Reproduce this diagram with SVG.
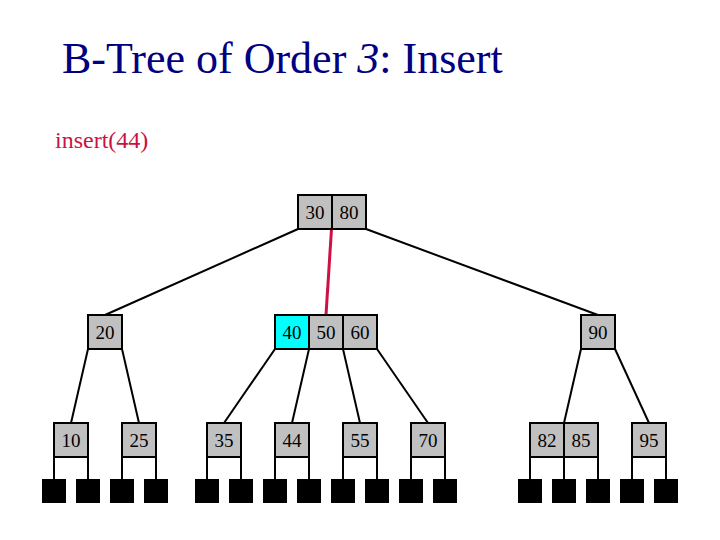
<svg xmlns="http://www.w3.org/2000/svg" width="720" height="540" viewBox="0 0 720 540">
<style>
.c{fill:#c0c0c0;stroke:#000;stroke-width:2}
.h{fill:#00ffff;stroke:#000;stroke-width:2}
.t{font-family:"Liberation Serif","Times New Roman",serif;font-size:19px;text-anchor:middle;fill:#000}
.l{fill:#000}
.e{stroke:#000;stroke-width:2;fill:none}
</style>
<rect width="720" height="540" fill="#fff"/>
<text x="62" y="73" font-family="Liberation Serif, Times New Roman, serif" font-size="44" fill="#000080">B-Tree of Order <tspan font-style="italic">3</tspan>: Insert</text>
<text x="55" y="148" font-family="Liberation Serif, Times New Roman, serif" font-size="24" fill="#cc1144">insert(44)</text>
<g id="connectors">
<line class="e" x1="298" y1="229" x2="105" y2="315"/>
<line x1="331.5" y1="229" x2="326" y2="315" stroke="#cc1144" stroke-width="3"/>
<line class="e" x1="366" y1="229" x2="598" y2="315"/>
<line class="e" x1="88" y1="349" x2="71" y2="423"/>
<line class="e" x1="122" y1="349" x2="139" y2="423"/>
<line class="e" x1="275" y1="349" x2="224" y2="423"/>
<line class="e" x1="309" y1="349" x2="292" y2="423"/>
<line class="e" x1="343" y1="349" x2="360" y2="423"/>
<line class="e" x1="377" y1="349" x2="428" y2="423"/>
<line class="e" x1="581" y1="349" x2="564" y2="423"/>
<line class="e" x1="615" y1="349" x2="649" y2="423"/>
<path class="e" d="M54 457V479M88 457V479M122 457V479M156 457V479M207 457V479M241 457V479M275 457V479M309 457V479M343 457V479M377 457V479M411 457V479M445 457V479M530 457V479M564 457V479M598 457V479M632 457V479M666 457V479"/>
</g>
<g id="root">
<rect class="c" x="298" y="195" width="34" height="34"/><rect class="c" x="332" y="195" width="34" height="34"/>
<text class="t" x="315" y="219">30</text><text class="t" x="349" y="219">80</text>
</g>
<g id="n20">
<rect class="c" x="88" y="315" width="34" height="34"/>
<text class="t" x="105" y="339">20</text>
</g>
<g id="n405060">
<rect class="h" x="275" y="315" width="34" height="34"/><rect class="c" x="309" y="315" width="34" height="34"/><rect class="c" x="343" y="315" width="34" height="34"/>
<text class="t" x="292" y="339">40</text><text class="t" x="326" y="339">50</text><text class="t" x="360" y="339">60</text>
</g>
<g id="n90">
<rect class="c" x="581" y="315" width="34" height="34"/>
<text class="t" x="598" y="339">90</text>
</g>
<g id="n10"><rect class="c" x="54" y="423" width="34" height="34"/><text class="t" x="71" y="447">10</text></g>
<g id="n25"><rect class="c" x="122" y="423" width="34" height="34"/><text class="t" x="139" y="447">25</text></g>
<g id="n35"><rect class="c" x="207" y="423" width="34" height="34"/><text class="t" x="224" y="447">35</text></g>
<g id="n44"><rect class="c" x="275" y="423" width="34" height="34"/><text class="t" x="292" y="447">44</text></g>
<g id="n55"><rect class="c" x="343" y="423" width="34" height="34"/><text class="t" x="360" y="447">55</text></g>
<g id="n70"><rect class="c" x="411" y="423" width="34" height="34"/><text class="t" x="428" y="447">70</text></g>
<g id="n8285"><rect class="c" x="530" y="423" width="34" height="34"/><rect class="c" x="564" y="423" width="34" height="34"/><text class="t" x="547" y="447">82</text><text class="t" x="581" y="447">85</text></g>
<g id="n95"><rect class="c" x="632" y="423" width="34" height="34"/><text class="t" x="649" y="447">95</text></g>
<g id="leaves">
<rect class="l" x="42" y="479" width="24" height="24"/><rect class="l" x="76" y="479" width="24" height="24"/>
<rect class="l" x="110" y="479" width="24" height="24"/><rect class="l" x="144" y="479" width="24" height="24"/>
<rect class="l" x="195" y="479" width="24" height="24"/><rect class="l" x="229" y="479" width="24" height="24"/>
<rect class="l" x="263" y="479" width="24" height="24"/><rect class="l" x="297" y="479" width="24" height="24"/>
<rect class="l" x="331" y="479" width="24" height="24"/><rect class="l" x="365" y="479" width="24" height="24"/>
<rect class="l" x="399" y="479" width="24" height="24"/><rect class="l" x="433" y="479" width="24" height="24"/>
<rect class="l" x="518" y="479" width="24" height="24"/><rect class="l" x="552" y="479" width="24" height="24"/>
<rect class="l" x="586" y="479" width="24" height="24"/><rect class="l" x="620" y="479" width="24" height="24"/>
<rect class="l" x="654" y="479" width="24" height="24"/>
</g>
</svg>
